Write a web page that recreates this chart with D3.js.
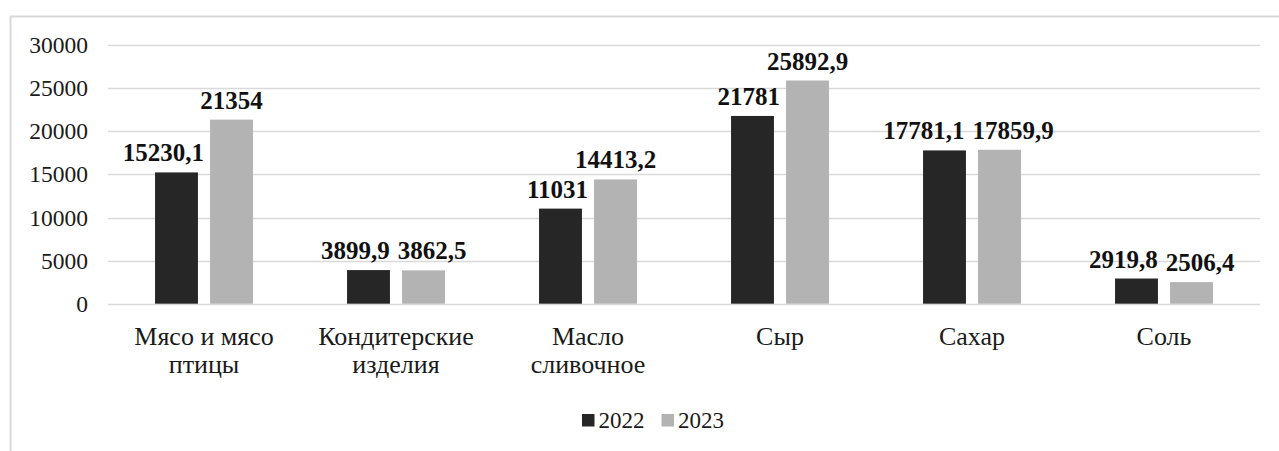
<!DOCTYPE html>
<html>
<head>
<meta charset="utf-8">
<script src="https://cdn.jsdelivr.net/npm/d3@7"></script>
<style>
  html, body { margin: 0; padding: 0; background: #fff; }
  svg { display: block; }
</style>
</head>
<body>
<svg id="chart" width="1279" height="451"></svg>
<script>
// ---- data ----
const categories = ["Мясо и мясо птицы", "Кондитерские изделия", "Масло сливочное", "Сыр", "Сахар", "Соль"];
const seriesNames = ["2022", "2023"];
const values2022 = [15230.1, 3899.9, 11031, 21781, 17781.1, 2919.8];
const values2023 = [21354, 3862.5, 14413.2, 25892.9, 17859.9, 2506.4];
const yTicks = [0, 5000, 10000, 15000, 20000, 25000, 30000];
const colors = ["#262626", "#b3b3b3"];

const seriesValues = [values2022, values2023];
const FONT = "Liberation Serif";

const svg = d3.select("#chart");

// chart frame (extends past right/bottom of the picture)
svg.append("rect")
  .attr("x", 10.5).attr("y", 16.5)
  .attr("width", 1300).attr("height", 500)
  .attr("fill", "none").attr("stroke", "#d9d9d9").attr("stroke-width", 2);

const plot = { left: 108, right: 1260, top: 45.1, bottom: 303.7 };

const x = d3.scaleBand().domain(categories)
  .range([plot.left, plot.right]).paddingInner(0.49).paddingOuter(0.245);
const xs = d3.scaleBand().domain(seriesNames)
  .range([0, x.bandwidth()]).paddingInner(0.22);
const y = d3.scaleLinear().domain([0, 30000]).range([plot.bottom, plot.top]);

// gridlines
svg.append("g").selectAll("line").data(yTicks).join("line")
  .attr("x1", plot.left).attr("x2", plot.right)
  .attr("y1", d => Math.round(y(d)) + 0.5).attr("y2", d => Math.round(y(d)) + 0.5)
  .attr("stroke", "#d9d9d9").attr("stroke-width", 1.5);

// y axis labels
const yAxis = d3.axisLeft(y).tickValues(yTicks).tickSize(0).tickPadding(0).tickFormat(d3.format("d"));
const gy = svg.append("g").attr("transform", `translate(${plot.left - 20},0)`).call(yAxis);
gy.attr("font-family", null).attr("font-size", null);
gy.select(".domain").remove();
gy.selectAll("text").attr("fill", "#1a1a1a")
  .style("font-family", FONT).style("font-size", "23.5px");

// bars
const rows = [];
categories.forEach((c, i) => {
  seriesNames.forEach((s, j) => rows.push({ cat: c, s, j, v: seriesValues[j][i] }));
});
svg.append("g").selectAll("rect").data(rows).join("rect")
  .attr("x", d => x(d.cat) + xs(d.s))
  .attr("width", xs.bandwidth())
  .attr("y", d => y(d.v))
  .attr("height", d => y(0) - y(d.v))
  .attr("fill", d => colors[d.j]);

// x axis category labels (wrapped)
const xAxis = d3.axisBottom(x).tickSize(0).tickPadding(0);
const gx = svg.append("g").attr("transform", `translate(0,${plot.bottom})`).call(xAxis);
gx.attr("font-family", null).attr("font-size", null);
gx.select(".domain").remove();
gx.selectAll("text").each(function(d) {
  const t = d3.select(this);
  t.text(null).attr("y", 0).attr("dy", null)
    .attr("fill", "#1a1a1a")
    .style("font-family", FONT).style("font-size", "26px");
  const words = d.split(" ");
  const maxW = 175;
  let lines = [], cur = [];
  const tmp = t.append("tspan");
  words.forEach(w => {
    const test = cur.concat(w).join(" ");
    tmp.text(test);
    if (tmp.node().getComputedTextLength() > maxW && cur.length) {
      lines.push(cur.join(" ")); cur = [w];
    } else cur.push(w);
  });
  lines.push(cur.join(" "));
  tmp.remove();
  lines.forEach((ln, k) => {
    t.append("tspan").attr("x", 0).attr("y", 41 + k * 28.5).text(ln);
  });
});

// value labels with simple overlap avoidance
const fmt = v => String(v).replace(".", ",");
const lg = svg.append("g");
categories.forEach((c, i) => {
  const labs = seriesNames.map((s, j) => {
    const v = seriesValues[j][i];
    const cx = x(c) + xs(s) + xs.bandwidth() / 2;
    const t = lg.append("text").text(fmt(v))
      .style("font-family", FONT).style("font-size", "25px")
      .attr("font-weight", "bold").attr("fill", "#111")
      .attr("text-anchor", "middle");
    const w = t.node().getComputedTextLength();
    return { t, cx, w, base: y(v) - 11, v, s };
  });
  const [a, b] = labs;
  const grayLeft = x(c) + xs(b.s);
  // dark label must not run into the gray bar when below its top
  if (a.base > y(b.v) - 2 && a.cx + a.w / 2 > grayLeft - 6) {
    a.cx = grayLeft - 6 - a.w / 2;
  }
  // labels overlapping each other: push apart
  const vOverlap = Math.abs(a.base - b.base) < 20;
  const overlap = (a.cx + a.w / 2 + 8) - (b.cx - b.w / 2);
  if (vOverlap && overlap > 0) {
    a.cx -= overlap * 0.6;
    b.cx += overlap * 0.4;
  }
  labs.forEach(l => l.t.attr("x", l.cx).attr("y", l.base));
});

// legend
const legCx = 653;
const leg = svg.append("g");
const items = seriesNames.map((s, j) => {
  const g = leg.append("g");
  g.append("rect").attr("width", 12.5).attr("height", 12.5).attr("y", 414).attr("fill", colors[j]);
  const t = g.append("text").text(s).attr("x", 16.5).attr("y", 427.5)
    .style("font-family", FONT).style("font-size", "23px").attr("fill", "#1a1a1a");
  return { g, w: 16.5 + t.node().getComputedTextLength() };
});
const gap = 17;
const total = d3.sum(items, d => d.w) + gap * (items.length - 1);
let cx0 = legCx - total / 2;
items.forEach(it => { it.g.attr("transform", `translate(${cx0},0)`); cx0 += it.w + gap; });
</script>
</body>
</html>
